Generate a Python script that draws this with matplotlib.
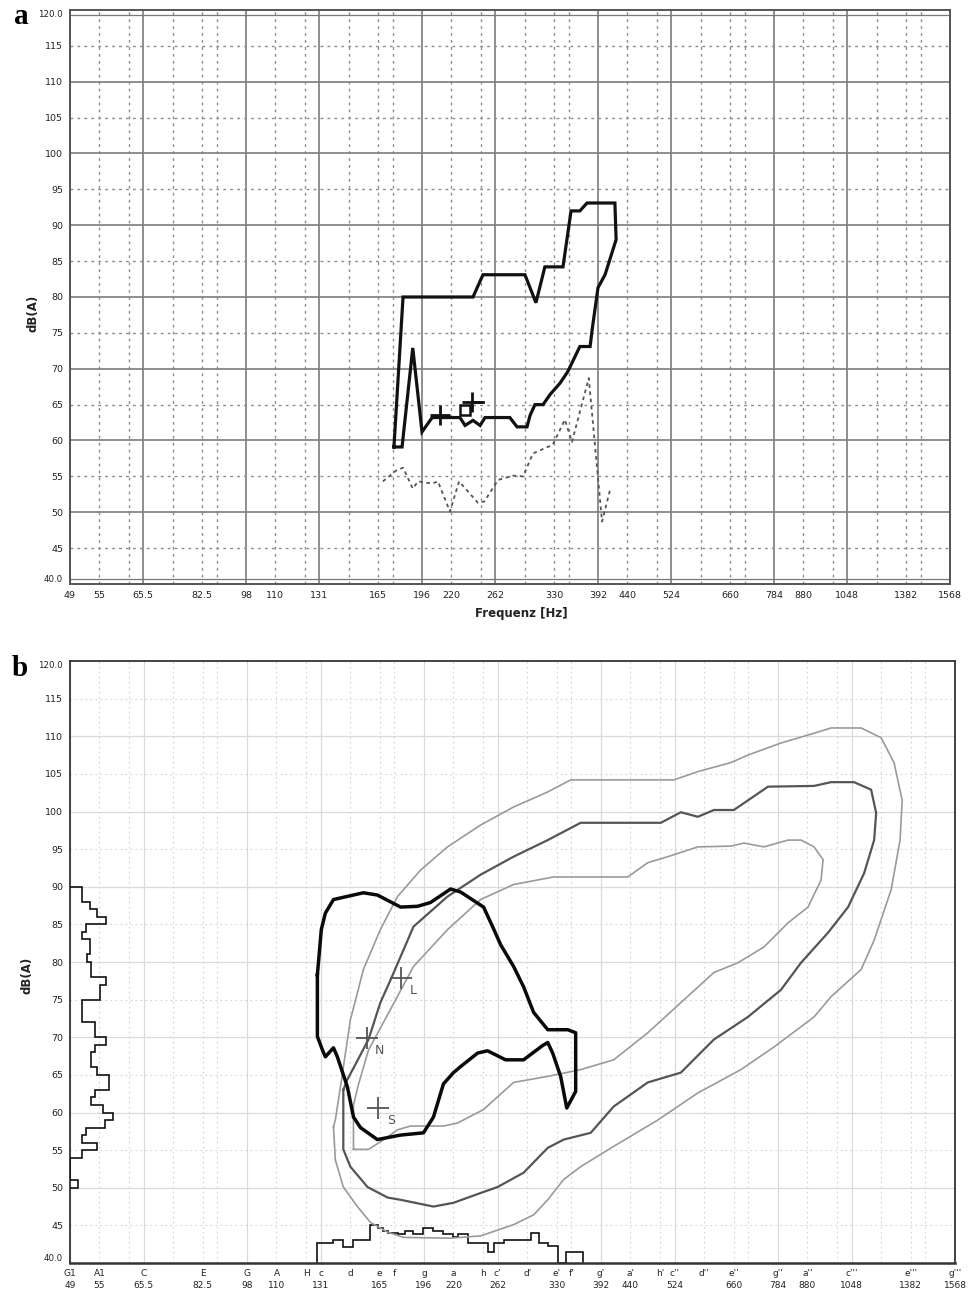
import numpy as np
import matplotlib.pyplot as plt
from matplotlib import transforms
from matplotlib.ticker import NullLocator

# ---- axis labels / ticks ----
tick_hz = [49, 55, 65.4, 82.4, 98, 110, 130.8, 164.8, 196, 220, 261.6, 329.6,
           392, 440, 523.3, 659.3, 784, 880, 1046.5, 1318.5, 1568]
tick_lab = ["49", "55", "65.5", "82.5", "98", "110", "131", "165", "196", "220",
            "262", "330", "392", "440", "524", "660", "784", "880", "1048", "1382", "1568"]

note_hz = [49, 55, 65.4, 82.4, 98, 110, 123.5, 130.8, 146.8, 164.8, 174.6, 196, 220,
           246.9, 261.6, 293.7, 329.6, 349.2, 392, 440, 493.9, 523.3, 587.3, 659.3,
           784, 880, 1046.5, 1318.5, 1568]
note_lab = ["G1", "A1", "C", "E", "G", "A", "H", "c", "d", "e", "f", "g", "a",
            "h", "c'", "d'", "e'", "f'", "g'", "a'", "h'", "c''", "d''", "e''",
            "g''", "a''", "c'''", "e'''", "g'''"]

db_ticks = list(range(40, 121, 5))
db_labels = ["40.0"] + [str(v) for v in range(45, 120, 5)] + ["120.0"]

# ---- panel a data ----
a_loop_hz = [175.5, 181.9, 239.6, 249.2, 294, 307, 318, 341.5, 352.5, 365, 375.4, 419,
             421, 403, 392, 383, 380, 365, 348, 337.6, 324.5, 315.7, 305.8, 300, 296.4,
             285, 277, 251.2, 246.4, 239.6, 232.2, 227.6, 204, 196, 189, 181.2, 175.5]
a_loop_db = [59.1, 80.0, 80.0, 83.1, 83.1, 79.2, 84.2, 84.2, 92.0, 92.0, 93.1, 93.1,
             88.0, 83.1, 81.3, 75.4, 73.1, 73.1, 69.6, 68.0, 66.4, 65.0, 65.0, 63.5, 61.9,
             61.9, 63.2, 63.2, 62.1, 62.8, 62.1, 63.2, 63.2, 61.2, 72.9, 59.1, 59.1]

a_dot_hz = [168, 177.6, 182, 189, 193, 204, 208.7, 218.8, 226.8, 244.4, 250.5, 264.5,
            280.5, 291.8, 303.4, 328, 344, 353.8, 378, 398.3, 411]
a_dot_db = [54.3, 55.9, 56.2, 53.3, 54.3, 54.0, 54.3, 50.1, 54.3, 51.3, 51.5, 54.5,
            55.1, 55.0, 58.2, 59.4, 62.9, 59.8, 68.7, 48.7, 53.1]

a_plus_hz = [210, 238.6]
a_plus_db = [63.6, 65.3]
a_sq_hz = [232]
a_sq_db = [64.3]
a_tail_hz = [238.6, 249]
a_tail_db = [65.3, 65.3]

# ---- panel b data ----
outer_hz = [137.5, 138.5, 141.3, 146.9, 154.6, 165.2, 176.7, 193.3, 214.9, 244.6, 278.4,
            318.2, 348.1, 521.4, 572.9, 652.0, 696.9, 793.1, 902.9, 965.2, 1085.7, 1174,
            1235, 1275, 1264.5, 1221, 1142.4, 1085.7, 965.2, 902.9, 771.6, 678.1, 572.9,
            489.7, 412.0, 362.0, 338.7, 318.2, 301.1, 278.4, 244.6, 217.5, 180.9, 169.9,
            158.9, 151.0, 142.9, 138.5, 137.5]
outer_db = [58.1, 59.0, 63.4, 72.3, 79.0, 84.3, 88.7, 92.2, 95.3, 98.2, 100.6,
            102.6, 104.2, 104.2, 105.3, 106.5, 107.5, 109.1, 110.4, 111.1, 111.1, 109.8,
            106.5, 101.5, 96.2, 89.6, 82.9, 79.0, 75.4, 72.7, 68.7, 65.7, 62.6,
            59.0, 55.5, 52.8, 51.1, 48.4, 46.4, 45.1, 43.6, 43.3, 43.4, 44.1,
            45.4, 47.5, 50.1, 53.7, 58.1]

middle_hz = [142.9, 145.2, 148.7, 157.7, 165.2, 171.9, 188.1, 214.9, 244.6, 278.4, 318.2,
             362.0, 495.5, 535.9, 572.9, 610.0, 659.6, 753.8, 902.9, 965.2, 1056, 1129,
             1151.5, 1142.4, 1098.5, 1031.6, 953.8, 857.9, 793.1, 696.9, 610.0, 535.9,
             470.9, 412.0, 376.5, 338.7, 318.2, 289.5, 261.5, 244.6, 220.0, 203.4, 178.8,
             169.9, 157.1, 146.9, 142.9, 142.9]
middle_db = [63.0, 64.4, 65.9, 69.7, 74.6, 77.6, 84.7, 88.7, 91.6, 94.0, 96.2,
             98.5, 98.5, 99.9, 99.3, 100.2, 100.2, 103.3, 103.4, 103.9, 103.9, 102.9,
             99.8, 96.2, 91.8, 87.3, 83.9, 79.9, 76.3, 72.7, 69.7, 65.3,
             64.0, 60.8, 57.3, 56.4, 55.3, 52.0, 50.1, 49.3, 48.0, 47.5, 48.4,
             48.7, 50.1, 52.8, 55.1, 63.0]

inner_hz = [148.7, 148.7, 151.6, 157.7, 171.9, 188.1, 214.9, 244.6, 278.4, 325.7, 435.3,
            470.9, 509.4, 572.9, 652.0, 686.2, 742.2, 815.4, 857.9, 902.9, 935.4, 928.1,
            881.8, 815.4, 742.2, 670.1, 610.0, 535.9, 470.9, 412.0, 362.0, 318.2, 278.4,
            247.5, 223.5, 211.5, 185.9, 176.7, 165.2, 157.7, 148.7]
inner_db = [55.1, 61.0, 63.7, 68.3, 73.7, 79.4, 84.3, 88.3, 90.3, 91.3, 91.3,
            93.2, 94.0, 95.3, 95.4, 95.8, 95.3, 96.2, 96.2, 95.3, 93.6, 90.9,
            87.3, 85.2, 82.0, 79.9, 78.6, 74.6, 70.6, 67.0, 65.7, 64.8, 64.0,
            60.4, 58.6, 58.2, 58.2, 57.7, 56.1, 55.1, 55.1]

patient_hz = [129.1, 131.1, 133.2, 137.5, 154.6, 163.3, 178.8, 191.1, 201.0, 217.5, 226.2,
              247.5, 256.4, 264.6, 278.4, 289.5, 301.1, 318.2, 344.1, 355.0, 355.0, 342.8,
              334.7, 324.4, 318.2, 311.9, 289.5, 269.8, 251.4, 241.8, 226.2, 220.0, 211.5,
              203.4, 195.6, 178.8, 163.3, 152.8, 148.7, 145.2, 139.6, 137.5, 133.2, 131.7,
              129.1, 129.1]
patient_db = [78.3, 84.3, 86.5, 88.3, 89.2, 88.9, 87.3, 87.4, 87.9, 89.7, 89.3,
              87.3, 84.7, 82.3, 79.4, 76.7, 73.3, 71.0, 71.0, 70.6, 62.8, 60.6,
              64.8, 67.9, 69.3, 68.9, 67.0, 67.0, 68.2, 67.9, 66.1, 65.3, 63.8,
              59.4, 57.3, 57.0, 56.4, 58.0, 59.4, 63.4, 67.4, 68.6, 67.4, 68.3,
              70.1, 78.3]

mark_lab = ["L", "N", "S"]
mark_hz = [178.8, 156.5, 164.0]
mark_db = [77.9, 69.9, 60.6]

# dB distribution (left histogram), 1 dB bins from 50 to 90
left_edges = list(range(50, 91))
left_counts = [8, 0, 0, 0, 12, 27, 12, 16, 35, 43, 33, 21, 25, 39, 39, 27, 21, 21, 25, 36,
               25, 25, 12, 12, 12, 30, 30, 36, 21, 21, 17, 20, 20, 12, 16, 36, 27, 20, 12, 12]

# pitch distribution (bottom histogram)
bottom_edges = [129.1, 137.5, 142.9, 148.7, 158.9, 164.0, 167.2, 170.5, 176.7, 182.3, 187.4,
                195.6, 203.4, 211.5, 220.0, 223.5, 232.5, 251.4, 257.4, 267.7, 297.6, 307.0,
                318.2, 330.9, 341.4, 364.9]
bottom_db = [42.7, 43.1, 42.1, 43.1, 45.1, 44.7, 44.2, 44.0, 43.9, 44.2, 43.8,
             44.7, 44.2, 43.8, 43.5, 43.8, 42.7, 41.5, 42.7, 43.1, 44.0, 42.7,
             42.2, 40.0, 41.5]

# white keys for grid (C and G solid)
white = ["G", "A", "H", "C", "D", "E", "F"]
semis = [0, 2, 4, 5, 7, 9, 10]
grid_hz, grid_solid = [], []
for octv in range(6):
    for nm, s in zip(white, semis):
        n = s + 12 * octv
        if n <= 60:
            grid_hz.append(49 * 2 ** (n / 12))
            grid_solid.append(nm in "CG")


def setup(ax, c_solid, c_dot, lw_solid, lw_dot, dots):
    ax.set_xscale('log', base=2)
    ax.set_xlim(49, 1568)
    ax.set_ylim(40, 120)
    ax.xaxis.set_minor_locator(NullLocator())
    ax.yaxis.set_minor_locator(NullLocator())
    for f, solid in zip(grid_hz, grid_solid):
        if solid:
            ax.axvline(f, color=c_solid, lw=lw_solid, zorder=0)
        else:
            ax.axvline(f, color=c_dot, lw=lw_dot, ls=dots, zorder=0)
    for v in range(45, 120, 5):
        if v % 10 == 0:
            ax.axhline(v, color=c_solid, lw=lw_solid, zorder=0)
        else:
            ax.axhline(v, color=c_dot, lw=lw_dot, ls=dots, zorder=0)
    ax.set_yticks(db_ticks, db_labels)
    ax.tick_params(axis='y', length=0, pad=5, labelsize=6.8, labelcolor='#222222')
    ticks = ax.yaxis.get_major_ticks()
    ticks[0].label1.set_va('bottom')
    ticks[-1].label1.set_va('top')
    ticks[0].label1.set_fontsize(6.2)
    ticks[-1].label1.set_fontsize(6.2)


fig = plt.figure(figsize=(9.78, 12.92), dpi=100)

# ================= panel a =================
ax = fig.add_axes([70 / 978, 1 - 584 / 1292, 880 / 978, 574 / 1292])
setup(ax, '#7c7c7c', '#8c8c8c', 1.2, 1.0, (0, (2, 3)))
ax.axhline(119.3, color='#777777', lw=0.9)
ax.axhline(40.7, color='#777777', lw=0.9)
for sp in ax.spines.values():
    sp.set_color('#555555')
    sp.set_linewidth(1.4)
ax.set_xticks(tick_hz, tick_lab)
ax.xaxis.set_minor_locator(NullLocator())
ax.tick_params(axis='x', length=0, pad=5, labelsize=6.8, labelcolor='#222222')

ax.plot(a_loop_hz, a_loop_db, color='#111111', lw=2.3, solid_joinstyle='miter')
ax.plot(a_dot_hz, a_dot_db, color='#555555', lw=1.3, ls=(0, (2, 2)))
ax.plot(a_plus_hz, a_plus_db, ls='none', marker='+', ms=14, mew=2, color='#111111')
ax.plot(a_sq_hz, a_sq_db, ls='none', marker='s', ms=7, mew=1.8, mfc='none', color='#111111')
ax.plot(a_tail_hz, a_tail_db, color='#111111', lw=2)

fig.text(521 / 978, 1 - 614 / 1292, "Frequenz [Hz]", ha='center', va='center',
         fontsize=8.5, fontweight='bold', color='#222222')
fig.text(33 / 978, 1 - 313 / 1292, "dB(A)", rotation=90, ha='center', va='center',
         fontsize=8.5, fontweight='bold', color='#222222')
fig.text(21 / 978, 1 - 16 / 1292, "a", ha='center', va='center', fontsize=21,
         fontweight='bold', family='Liberation Serif')

# ================= panel b =================
bx = fig.add_axes([70 / 978, 1 - 1263 / 1292, 885 / 978, 602 / 1292])
setup(bx, '#dadada', '#d2d2d2', 0.9, 0.8, (0, (1.5, 3)))
for sp in bx.spines.values():
    sp.set_color('#333333')
    sp.set_linewidth(1.3)
bx.spines['bottom'].set_linewidth(1.8)
bx.set_xticks([])

trans = transforms.blended_transform_factory(bx.transData, bx.transAxes)
for f, nm in zip(note_hz, note_lab):
    bx.text(f, -0.017, nm, transform=trans, ha='center', va='center', fontsize=6.5,
            color='#222222')
for f, lab in zip(tick_hz, tick_lab):
    bx.text(f, -0.037, lab, transform=trans, ha='center', va='center', fontsize=6.5,
            color='#222222')

bx.plot(outer_hz, outer_db, color='#9a9a9a', lw=1.2)
bx.plot(inner_hz, inner_db, color='#9a9a9a', lw=1.2)
bx.plot(middle_hz, middle_db, color='#555555', lw=1.6)
bx.plot(patient_hz, patient_db, color='#0a0a0a', lw=2.5)

bx.plot(mark_hz, mark_db, ls='none', marker='+', ms=16, mew=1.3, color='#555555')
for nm, f, d in zip(mark_lab, mark_hz, mark_db):
    bx.annotate(nm, (f, d), xytext=(9, -9), textcoords='offset points', ha='center',
                va='center', fontsize=9, color='#555555')

bx.stairs(bottom_db, bottom_edges, baseline=40, color='#111111', lw=1.2)

hx = bx.inset_axes([0, 0, 100 / 885, 1])
hx.set_xlim(0, 100)
hx.set_ylim(40, 120)
hx.axis('off')
hx.patch.set_alpha(0)
hx.stairs(left_counts, left_edges, orientation='horizontal', baseline=0,
          color='#111111', lw=1.2)

fig.text(27 / 978, 1 - 975 / 1292, "dB(A)", rotation=90, ha='center', va='center',
         fontsize=8.5, fontweight='bold', color='#222222')
fig.text(20 / 978, 1 - 669 / 1292, "b", ha='center', va='center', fontsize=21,
         fontweight='bold', family='Liberation Serif')

fig.savefig("out.png", dpi=100)
